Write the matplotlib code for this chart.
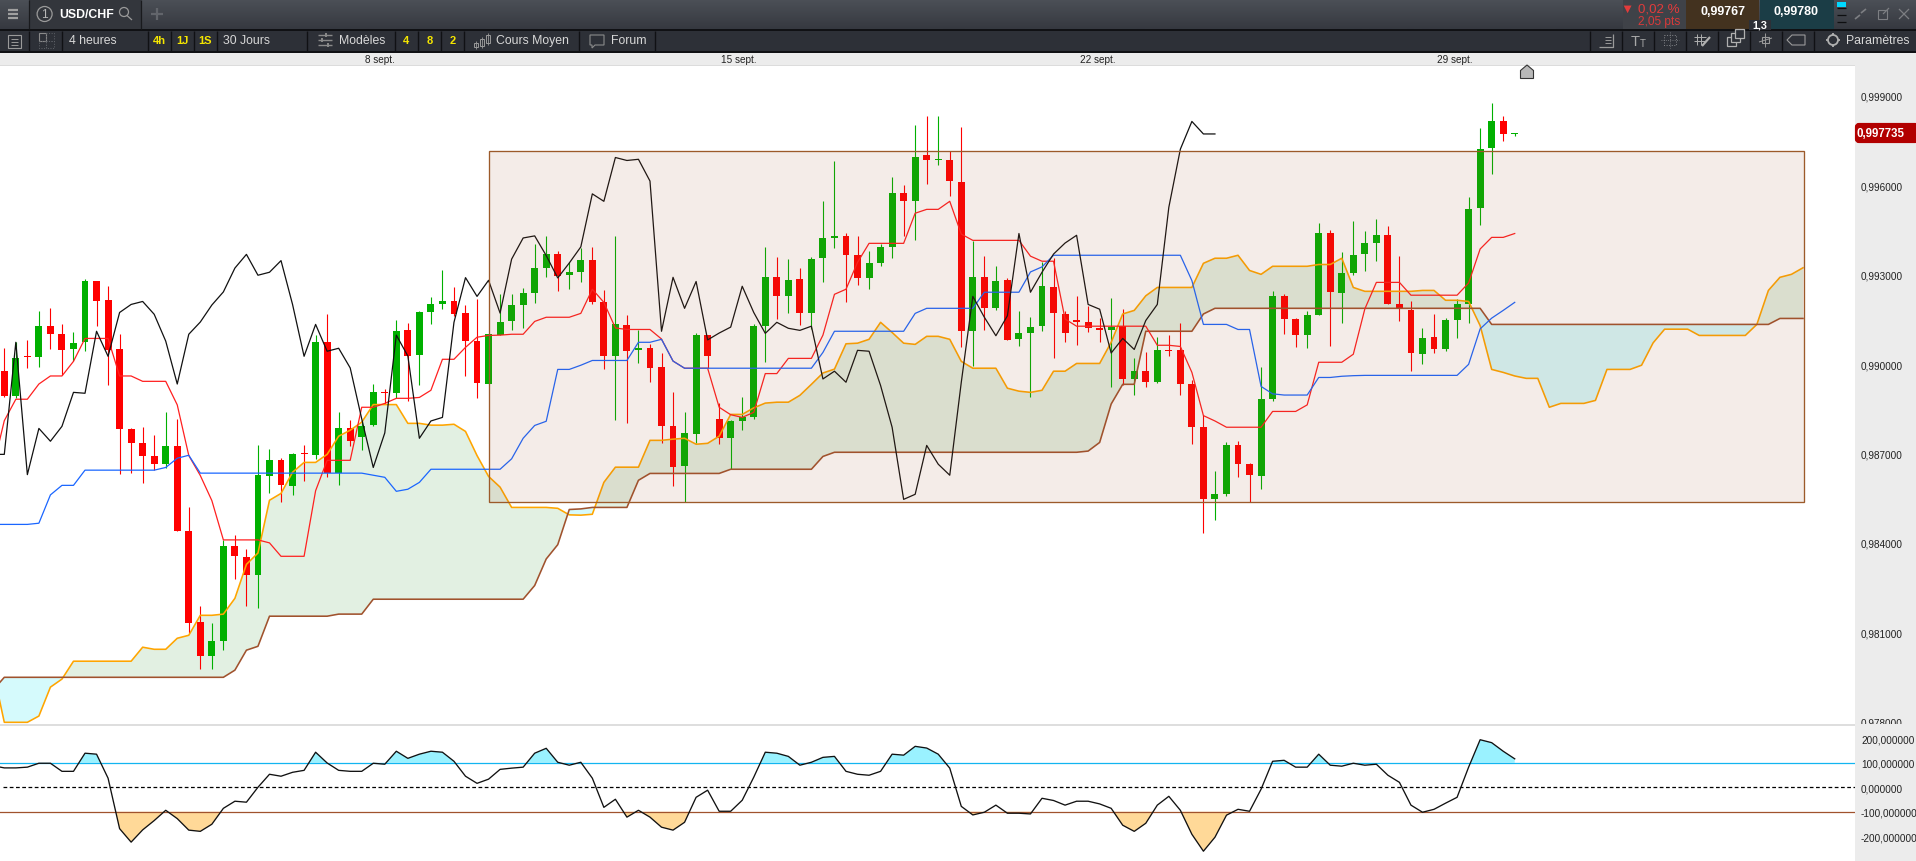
import numpy as np
import matplotlib
matplotlib.use("Agg")
import matplotlib.pyplot as plt
from matplotlib.patches import Rectangle, Circle, Polygon, FancyBboxPatch

plt.rcParams["font.family"] = ["Liberation Sans", "DejaVu Sans"]

# all prices are in 1e-5 units, USD/CHF 4 hour bars
open_pts = [
    98977, 98893, 99027, 99024, 99128, 99101, 99051, 99074, 99279, 99215,
    99051, 98782, 98735, 98692, 98665, 98725, 98440, 98135, 98021, 98071,
    98390, 98353, 98293, 98625, 98678, 98591, 98702, 98695, 99074, 98635,
    98786, 98755, 98796, 98906, 98903, 99114, 99030, 99175, 99201, 99212,
    99171, 99077, 98933, 99097, 99144, 99198, 99238, 99322, 99369, 99299,
    99309, 99349, 99208, 99027, 99131, 99047, 99054, 98990, 98792, 98658,
    98765, 99097, 98816, 98752, 98809, 98822, 99128, 99292, 99228, 99285,
    99171, 99356, 99423, 99430, 99366, 99289, 99339, 99393, 99574, 99547,
    99701, 99684, 99684, 99611, 99111, 99292, 99188, 99282, 99084, 99104,
    99128, 99258, 99168, 99148, 99141, 99121, 99114, 99128, 98950, 98977,
    98940, 99047, 99047, 98933, 98789, 98547, 98564, 98729, 98665, 98625,
    98883, 99228, 99151, 99097, 99165, 99440, 99238, 99305, 99369, 99406,
    99433, 99201, 99181, 99034, 99091, 99050, 99148, 99201, 99523, 99725, 99815, 99772,
]
close_pts = [
    98893, 99020, 99025, 99128, 99101, 99047, 99071, 99279, 99212, 99047,
    98782, 98735, 98692, 98665, 98725, 98440, 98132, 98021, 98071, 98390,
    98356, 98293, 98628, 98678, 98594, 98698, 98698, 99074, 98635, 98786,
    98742, 98792, 98906, 98903, 99111, 99027, 99175, 99201, 99212, 99168,
    99077, 98936, 99101, 99141, 99198, 99238, 99322, 99369, 99295, 99309,
    99349, 99208, 99027, 99134, 99044, 99054, 98987, 98792, 98655, 98769,
    99097, 99027, 98752, 98809, 98822, 99128, 99292, 99228, 99282, 99171,
    99352, 99423, 99430, 99366, 99289, 99339, 99393, 99574, 99547, 99694,
    99684, 99688, 99614, 99111, 99292, 99188, 99279, 99081, 99104, 99124,
    99262, 99171, 99104, 99141, 99121, 99114, 99124, 98950, 98977, 98940,
    99047, 99044, 98933, 98789, 98547, 98564, 98729, 98665, 98628, 98883,
    99228, 99151, 99097, 99165, 99440, 99242, 99305, 99366, 99406, 99433,
    99201, 99185, 99037, 99087, 99050, 99148, 99201, 99520, 99721, 99815, 99772, 99775,
]
high_pts = [
    99054, 99073, 99081, 99178, 99188, 99134, 99108, 99285, 99279, 99262,
    99101, 98786, 98789, 98762, 98839, 98816, 98521, 98189, 98132, 98410,
    98427, 98380, 98729, 98715, 98685, 98702, 98729, 99097, 99168, 98839,
    98812, 98812, 98933, 98916, 99148, 99138, 99178, 99225, 99315, 99258,
    99198, 99218, 99101, 99235, 99235, 99255, 99403, 99430, 99379, 99342,
    99389, 99393, 99248, 99430, 99165, 99114, 99067, 99037, 98906, 98839,
    99104, 99097, 98869, 98812, 98890, 99134, 99393, 99359, 99352, 99322,
    99359, 99547, 99681, 99440, 99430, 99379, 99403, 99627, 99601, 99802,
    99832, 99832, 99715, 99795, 99413, 99362, 99329, 99289, 99178, 99158,
    99342, 99356, 99178, 99228, 99195, 99154, 99222, 99185, 99020, 99040,
    99091, 99097, 99138, 98947, 98829, 98641, 98739, 98742, 98668, 98990,
    99245, 99235, 99154, 99178, 99473, 99450, 99376, 99480, 99446, 99487,
    99463, 99362, 99211, 99121, 99168, 99154, 99218, 99560, 99792, 99876, 99832, 99775,
]
low_pts = [
    98890, 98886, 98987, 98990, 99051, 98963, 99010, 99044, 99128, 98930,
    98631, 98635, 98601, 98645, 98651, 98440, 98098, 97977, 97977, 98041,
    98279, 98189, 98182, 98568, 98537, 98561, 98608, 98682, 98621, 98594,
    98725, 98712, 98792, 98866, 98886, 98876, 98930, 99134, 99185, 99161,
    98960, 98886, 98933, 99097, 99114, 99121, 99205, 99292, 99245, 99252,
    99275, 99201, 98983, 98812, 98802, 99004, 98940, 98735, 98591, 98536,
    98735, 98987, 98732, 98648, 98779, 98816, 99007, 99151, 99171, 99131,
    99118, 99275, 99389, 99208, 99265, 99252, 99329, 99356, 99430, 99416,
    99604, 99668, 99564, 99057, 98993, 99114, 99181, 99081, 99061, 98890,
    99111, 99020, 99074, 99064, 99108, 99074, 98923, 98930, 98896, 98923,
    98936, 99027, 98896, 98732, 98433, 98477, 98557, 98621, 98536, 98581,
    98876, 99101, 99057, 99054, 99165, 99061, 99138, 99299, 99312, 99346,
    99201, 99144, 98977, 99000, 99037, 99044, 99087, 99138, 99466, 99637, 99748, 99765,
]

# ichimoku lines, first value of each sits one bar left of the chart edge
tenkan_pts = [
    98648, 98810, 98882, 98882, 98933, 98960, 98960, 99009, 99086, 99086, 99086,
    98960, 98960, 98942, 98942, 98942, 98863, 98693, 98626, 98542, 98410,
    98410, 98410, 98410, 98400, 98355, 98355, 98355, 98575, 98677, 98677,
    98677, 98855, 98855, 98868, 98885, 98885, 98888, 98912, 99016, 99016,
    99056, 99090, 99096, 99097, 99100, 99100, 99143, 99157, 99157, 99157,
    99170, 99251, 99207, 99121, 99116, 99116, 99116, 99084, 99010, 98986,
    98986, 98986, 98855, 98830, 98821, 98838, 98968, 98968, 99019, 99019,
    99019, 99097, 99234, 99251, 99341, 99405, 99405, 99405, 99405, 99506,
    99519, 99519, 99546, 99436, 99415, 99415, 99415, 99415, 99415, 99362,
    99345, 99345, 99151, 99127, 99127, 99127, 99127, 99127, 99127, 99127,
    99063, 99063, 99059, 98972, 98827, 98809, 98788, 98788, 98788, 98788,
    98841, 98841, 98841, 98863, 99006, 99006, 99006, 99033, 99185, 99274,
    99274, 99274, 99231, 99231, 99231, 99231, 99231, 99272, 99386, 99425, 99425, 99438,
]
kijun_pts = [
    98462, 98462, 98462, 98462, 98466, 98561, 98593, 98593, 98644, 98644, 98644,
    98644, 98644, 98644, 98644, 98653, 98684, 98694, 98634, 98634, 98634,
    98634, 98634, 98634, 98634, 98634, 98634, 98634, 98634, 98634, 98634,
    98634, 98634, 98627, 98620, 98573, 98580, 98603, 98647, 98647, 98647,
    98647, 98647, 98647, 98647, 98682, 98751, 98794, 98808, 98982, 98982,
    98996, 99012, 99012, 99012, 99012, 99073, 99073, 99083, 99010, 98986,
    98986, 98986, 98986, 98986, 98986, 98986, 98986, 98986, 98986, 98986,
    98986, 99039, 99110, 99110, 99110, 99110, 99110, 99110, 99110, 99170,
    99187, 99187, 99187, 99187, 99187, 99241, 99241, 99241, 99241, 99309,
    99326, 99365, 99365, 99365, 99365, 99365, 99365, 99365, 99365, 99365,
    99365, 99365, 99365, 99280, 99133, 99133, 99133, 99116, 99116, 98925,
    98900, 98896, 98896, 98896, 98955, 98955, 98959, 98961, 98962, 98962,
    98962, 98962, 98962, 98962, 98962, 98962, 98962, 98999, 99118, 99154, 99180, 99207,
]
chikou_pts = [
    98697, 98697, 99073, 98629, 98784, 98741, 98791, 98905, 98902, 99110, 99026,
    99173, 99200, 99210, 99167, 99077, 98933, 99100, 99141, 99198, 99242,
    99322, 99368, 99298, 99308, 99347, 99200, 99026, 99133, 99043, 99053,
    98987, 98816, 98653, 98769, 99097, 99027, 98751, 98809, 98821, 99140,
    99290, 99227, 99281, 99171, 99352, 99423, 99430, 99364, 99289, 99339,
    99393, 99571, 99546, 99693, 99683, 99687, 99614, 99110, 99291, 99187,
    99277, 99081, 99104, 99124, 99261, 99173, 99103, 99140, 99120, 99113,
    99127, 98950, 98976, 98939, 99046, 99043, 98928, 98788, 98546, 98563,
    98727, 98664, 98627, 98939, 99227, 99157, 99095, 99162, 99438, 99241,
    99308, 99369, 99406, 99432, 99200, 99184, 99037, 99086, 99049, 99146,
    99200, 99526, 99721, 99814, 99772, 99772,
]
senkou_a_pts = [
    97977, 97798, 97798, 97798, 97819, 97916, 97943, 98003, 98003, 98003, 98003,
    98003, 98003, 98050, 98043, 98043, 98080, 98090, 98157, 98157, 98161,
    98214, 98328, 98366, 98543, 98566, 98637, 98670, 98670, 98697, 98758,
    98778, 98805, 98864, 98864, 98864, 98801, 98801, 98795, 98795, 98798,
    98774, 98693, 98623, 98587, 98519, 98519, 98519, 98519, 98516, 98494,
    98493, 98496, 98603, 98654, 98654, 98654, 98744, 98744, 98748, 98751,
    98731, 98734, 98758, 98831, 98831, 98853, 98869, 98872, 98872, 98895,
    98932, 98970, 98983, 99068, 99070, 99083, 99140, 99106, 99070, 99066,
    99093, 99093, 99083, 99009, 98986, 98986, 98986, 98919, 98909, 98905,
    98912, 98976, 98976, 99002, 99002, 99002, 99073, 99168, 99180, 99229,
    99257, 99257, 99257, 99257, 99338, 99355, 99355, 99365, 99314, 99301,
    99328, 99328, 99328, 99328, 99334, 99334, 99355, 99257, 99244, 99244,
    99244, 99244, 99244, 99247, 99247, 99214, 99214, 99210, 99129, 98982,
    98972, 98960, 98952, 98952, 98855, 98868, 98868, 98868, 98878, 98982,
    98982, 98982, 98996, 99071, 99117, 99117, 99117, 99096, 99096, 99096,
    99096, 99096, 99133, 99247, 99291, 99301, 99323,
]
senkou_b_pts = [
    97905, 97949, 97949, 97949, 97949, 97949, 97949, 97949, 97949, 97949, 97949,
    97949, 97949, 97949, 97949, 97949, 97949, 97949, 97949, 97949, 97949,
    97973, 98040, 98053, 98154, 98154, 98154, 98154, 98154, 98154, 98161,
    98161, 98161, 98211, 98211, 98211, 98211, 98211, 98211, 98211, 98211,
    98211, 98211, 98211, 98211, 98211, 98211, 98257, 98346, 98394, 98512,
    98514, 98519, 98519, 98519, 98519, 98610, 98633, 98633, 98633, 98633,
    98633, 98633, 98633, 98647, 98647, 98647, 98647, 98647, 98647, 98647,
    98647, 98690, 98704, 98704, 98704, 98704, 98704, 98704, 98704, 98704,
    98704, 98704, 98704, 98704, 98704, 98704, 98704, 98704, 98704, 98704,
    98704, 98704, 98704, 98704, 98708, 98737, 98866, 98932, 98932, 99110,
    99110, 99110, 99110, 99110, 99168, 99187, 99187, 99187, 99187, 99187,
    99187, 99187, 99187, 99187, 99187, 99187, 99187, 99187, 99187, 99187,
    99187, 99187, 99187, 99187, 99187, 99187, 99187, 99187, 99187, 99133,
    99133, 99133, 99133, 99133, 99133, 99133, 99133, 99133, 99133, 99133,
    99133, 99133, 99133, 99133, 99133, 99133, 99133, 99133, 99133, 99133,
    99133, 99133, 99133, 99133, 99153, 99153, 99153,
]

# commodity channel index, same offset of one bar
cci_values = [
    88, 79, 79, 82, 98, 98, 65, 65, 139, 135, 37,
    -169, -224, -174, -136, -94, -128, -175, -180, -151, -86,
    -57, -61, 0, 53, 45, 61, 69, 143, 99, 69,
    65, 65, 98, 94, 147, 118, 135, 147, 143, 106,
    45, 16, 33, 73, 78, 82, 139, 159, 102, 90,
    102, 37, -82, -49, -122, -94, -122, -163, -175, -143,
    -41, -12, -98, -98, -53, 41, 143, 139, 126, 90,
    102, 122, 126, 65, 53, 49, 65, 135, 131, 167,
    160, 135, 78, -78, -113, -102, -73, -106, -106, -109,
    -45, -54, -73, -57, -57, -68, -86, -155, -180, -147,
    -73, -37, -94, -192, -261, -204, -114, -90, -98, -8,
    106, 110, 82, 82, 135, 90, 86, 98, 90, 94,
    49, 20, -73, -102, -90, -65, -41, 82, 194, 182, 147, 116,
]

price_ticks = [0.978, 0.981, 0.984, 0.987, 0.990, 0.993, 0.996, 0.999]
cci_ticks = [-200, -100, 0, 100, 200]
date_bars = [32.6, 63.7, 94.8, 125.8]
date_labels = ["8 sept.", "15 sept.", "22 sept.", "29 sept."]
box_bars = (42.0, 156.05)
box_prices = (98536, 99716)
last_price = 0.997735

W, H = 1916, 862
BAR_PX = 11.53
BAR0_PX = 4.3
PLOT_RIGHT = 1855
STRIP = "#ececec"


def ax_rect(x0, y0, x1, y1):
    return [x0 / W, 1 - y1 / H, (x1 - x0) / W, (y1 - y0) / H]


def comma(value, decimals=6):
    return f"{value:.{decimals}f}".replace(".", ",")


def rect(ax, x, y, w, h, color):
    ax.add_patch(Rectangle((x, y), w, h, fc=color, ec="none", lw=0))


def seg(ax, xs, ys, color="#a8a8a8", lw=0.9, **kw):
    ax.plot(xs, ys, color=color, lw=lw, solid_capstyle="butt", **kw)


def txt(ax, x, y, s, color="#d8d8d8", size=8.8, weight="normal", ha="left"):
    ax.text(x, y, s, color=color, fontsize=size, fontweight=weight, ha=ha, va="center")


fig = plt.figure(figsize=(W / 100, H / 100), dpi=100, facecolor="white")

# toolbar chrome behind the charts, drawn in pixel space
ui = fig.add_axes([0, 0, 1, 1], zorder=0)
grad = np.linspace(0, 1, 30).reshape(-1, 1)
ui.imshow(grad, extent=(0, W, 30, 0), cmap=matplotlib.colors.LinearSegmentedColormap.from_list("bar", ["#4c5057", "#363940"]), aspect="auto")
rect(ui, 0, 0, W, 1, "#6f7175")
rect(ui, 29, 1, 112, 29, "#33363c")
rect(ui, 0, 30, W, 2, "#101114")
rect(ui, 0, 32, W, 20, "#2d3037")
rect(ui, 0, 52, W, 2, "#101114")
rect(ui, 0, 54, W, 12, STRIP)
rect(ui, 0, 66, W, 1.5, "#dcdcdc")
rect(ui, PLOT_RIGHT, 54, W - PLOT_RIGHT, H - 54, STRIP)
for x in [29, 141]:
    seg(ui, [x, x], [1, 30], "#191a1d")
for x in [29.5, 62.5, 148, 171, 194, 217, 307, 395, 418, 441, 464, 579, 655,
          1590, 1622, 1654, 1686, 1718, 1750, 1782, 1814]:
    seg(ui, [x, x], [32, 52], "#101114", lw=1.0)

# left tab
for y in [11, 15, 19]:
    seg(ui, [8, 18], [y, y], "#a0a0a0", lw=1.6)
ui.add_patch(Circle((44.6, 15), 7.5, fill=False, ec="#9a9a9a", lw=0.9))
txt(ui, 44.6, 15, "1", "#b8b8b8", 8.6, ha="center")
txt(ui, 59, 15, "USD/CHF", "#ffffff", 8.8, "bold")
ui.add_patch(Circle((124, 13), 4.5, fill=False, ec="#9a9a9a", lw=0.9))
seg(ui, [127, 132], [16.5, 21], "#9a9a9a")
seg(ui, [151, 163], [15, 15], "#62656b", lw=1.6)
seg(ui, [157, 157], [9, 21], "#62656b", lw=1.6)

# second row, left
ui.add_patch(Rectangle((8, 36), 13, 13, fill=False, ec="#9a9a9a", lw=0.8))
for y in [39.5, 42.5, 45.5]:
    seg(ui, [11, 18], [y, y], "#9a9a9a", lw=0.7)
ui.add_patch(Rectangle((39, 34), 7.5, 7.5, fill=False, ec="#8a8a8a", lw=0.8))
ui.add_patch(Rectangle((46.5, 34), 7.5, 7.5, fill=False, ec="#5f6268", lw=0.7, ls=":"))
ui.add_patch(Rectangle((39, 41.5), 7.5, 7.5, fill=False, ec="#5f6268", lw=0.7, ls=":"))
ui.add_patch(Rectangle((46.5, 41.5), 7.5, 7.5, fill=False, ec="#5f6268", lw=0.7, ls=":"))
txt(ui, 69, 41, "4 heures")
for x, s in [(159.5, "4h"), (182.5, "1J"), (205.5, "1S"), (406.5, "4"), (429.5, "8"), (452.5, "2")]:
    txt(ui, x, 41.5, s, "#f5e600", 8.0, "bold", "center")
txt(ui, 223, 41, "30 Jours")
for y, x0, x1 in [(36, 318, 332), (41, 318, 332), (46, 318, 332)]:
    seg(ui, [x0, x1], [y, y], "#8a8a8a", lw=1.0)
for y, x in [(36, 326), (41, 322), (46, 328)]:
    seg(ui, [x, x], [y - 2, y + 2], "#8a8a8a", lw=1.4)
txt(ui, 339, 41, "Modèles")
txt(ui, 496, 41, "Cours Moyen")
for x, y0, y1 in [(476, 44, 48), (482, 40, 47), (488, 36, 44)]:
    ui.add_patch(Rectangle((x - 2, y0), 4, y1 - y0, fill=False, ec="#9a9a9a", lw=0.7))
    seg(ui, [x, x], [y0 - 2, y1 + 2], "#9a9a9a", lw=0.6)
ui.add_patch(Polygon([(590, 36), (604, 36), (604, 46), (595, 46), (592, 49), (592, 46), (590, 46)],
                     closed=True, fill=False, ec="#8a8a8a", lw=0.8))
txt(ui, 611, 41, "Forum")

# top right quotes
rect(ui, 1623, 1, 63, 29, "#3f4248")
rect(ui, 1686, 1, 73, 29, "#43321f")
rect(ui, 1760, 1, 74, 29, "#1b3d46")
txt(ui, 1680, 9, "▼ 0,02 %", "#e23b3b", 9.6, ha="right")
txt(ui, 1680, 22, "2,05 pts", "#d93a3a", 8.6, ha="right")
txt(ui, 1723, 12, "0,99767", "#ffffff", 9.0, "bold", "center")
txt(ui, 1796, 12, "0,99780", "#ffffff", 9.0, "bold", "center")
rect(ui, 1837, 3, 9, 5, "#00d8ff")
for y in [9, 16, 23]:
    seg(ui, [1837, 1846], [y, y], "#0e0f11", lw=0.9)
seg(ui, [1855, 1860], [20, 16], "#7d7f83", lw=1.2)
seg(ui, [1861, 1866], [14, 10], "#7d7f83", lw=1.2)
ui.add_patch(Rectangle((1878, 11), 9, 9, fill=False, ec="#7d7f83", lw=0.8))
seg(ui, [1883, 1889], [15, 9], "#7d7f83", lw=0.9)
seg(ui, [1899, 1909], [10, 20], "#7d7f83", lw=0.9)
seg(ui, [1899, 1909], [20, 10], "#7d7f83", lw=0.9)

# second row, right
seg(ui, [1599, 1613, 1613], [48, 48, 35], "#9a9a9a")
for y in [38, 41, 44]:
    seg(ui, [1605, 1611], [y, y], "#9a9a9a", lw=0.7)
txt(ui, 1631, 42, "T", "#a8a8a8", 10.5)
txt(ui, 1640, 44, "T", "#a8a8a8", 7)
ui.add_patch(Rectangle((1664, 36), 12, 10, fill=False, ec="#85878b", lw=0.7, ls=":"))
seg(ui, [1670, 1670], [33, 49], "#85878b", lw=0.6, ls=":")
seg(ui, [1661, 1679], [41, 41], "#85878b", lw=0.6, ls=":")
for off in [0, 4]:
    seg(ui, [1697 + off, 1697 + off], [35, 46], "#b0b0b0", lw=0.7)
    seg(ui, [1694, 1706], [38 + off, 38 + off], "#b0b0b0", lw=0.7)
seg(ui, [1702, 1710], [47, 38], "#b0b0b0", lw=1.6)
for off in [0, 4, 8]:
    ui.add_patch(Rectangle((1727 + off, 38 - off), 9, 9, fc="#2d3037", ec="#b0b0b0", lw=0.9))
ui.add_patch(Rectangle((1762, 38), 7, 6, fill=False, ec="#9a9a9a", lw=0.8))
seg(ui, [1765.5, 1765.5], [34, 48], "#9a9a9a", lw=0.7)
seg(ui, [1759, 1772], [43, 39], "#9a9a9a", lw=0.7)
ui.add_patch(Polygon([(1805, 36), (1792, 36), (1787, 41), (1792, 46), (1805, 46)], closed=True,
                     fill=False, ec="#9a9a9a", lw=0.8))
ui.add_patch(Circle((1833, 41), 5, fill=False, ec="#b0b0b0", lw=1.3))
for dx, dy in [(0, -6.5), (0, 6.5), (-6.5, 0), (6.5, 0)]:
    seg(ui, [1833 + dx * 0.8, 1833 + dx * 1.1], [41 + dy * 0.8, 41 + dy * 1.1], "#b0b0b0", lw=1.3)
txt(ui, 1846, 41, "Paramètres")
ui.set_xlim(0, W)
ui.set_ylim(H, 0)
ui.axis("off")

# main price panel
y_low, y_high = 0.97794, 1.00000
x_left = -BAR0_PX / BAR_PX
x_right = (PLOT_RIGHT - BAR0_PX) / BAR_PX
ax = fig.add_axes(ax_rect(0, 67, PLOT_RIGHT, 724.5), zorder=1)
ax.set_facecolor("white")

opens = np.array(open_pts) / 1e5
closes = np.array(close_pts) / 1e5
highs = np.array(high_pts) / 1e5
lows = np.array(low_pts) / 1e5
bars = np.arange(len(opens))

span_a = np.array(senkou_a_pts) / 1e5
span_b = np.array(senkou_b_pts) / 1e5
span_x = np.arange(len(span_a)) - 1
ax.fill_between(span_x, span_a, span_b, where=span_a >= span_b, interpolate=True,
                color="#e2f0e2", lw=0, zorder=1)
ax.fill_between(span_x, span_a, span_b, where=span_a <= span_b, interpolate=True,
                color="#d5fafc", lw=0, zorder=1)

up = closes >= opens
colors = np.where(up, "#00b000", "#ff0000")
ax.vlines(bars, lows, highs, colors=colors, lw=0.8, zorder=2)
ax.bar(bars, np.maximum(np.abs(closes - opens), 0.00003), bottom=np.minimum(opens, closes),
       width=0.6, color=colors, lw=0, zorder=2)

ax.plot(span_x, span_a, color="#ffa500", lw=1.15, zorder=3)
ax.plot(span_x, span_b, color="#a0522d", lw=1.15, zorder=3)
ax.plot(np.arange(len(tenkan_pts)) - 1, np.array(tenkan_pts) / 1e5, color="#ff2020", lw=0.9, zorder=3)
ax.plot(np.arange(len(kijun_pts)) - 1, np.array(kijun_pts) / 1e5, color="#1a66ff", lw=0.9, zorder=3)
ax.plot(np.arange(len(chikou_pts)) - 1, np.array(chikou_pts) / 1e5, color="#111111", lw=0.9, zorder=3)

# price range box, translucent over everything it crosses
box_w = box_bars[1] - box_bars[0]
box_h = (box_prices[1] - box_prices[0]) / 1e5
ax.add_patch(Rectangle((box_bars[0], box_prices[0] / 1e5), box_w, box_h,
                       fc=(0.63, 0.32, 0.18, 0.11), ec="#9c5a2a", lw=0.95, zorder=4))

ax.set_xlim(x_left, x_right)
ax.set_ylim(y_low, y_high)
ax.yaxis.tick_right()
ax.set_yticks(price_ticks)
ax.set_yticklabels([comma(v) for v in price_ticks])
ax.xaxis.tick_top()
ax.set_xticks(date_bars)
ax.set_xticklabels(date_labels)
ax.tick_params(axis="y", length=0, pad=4.3, labelsize=7.2, labelcolor="#222222")
ax.tick_params(axis="x", length=0, pad=1.5, labelsize=7.2, labelcolor="#222222")
for spine in ax.spines.values():
    spine.set_visible(False)

# CCI panel
sub = fig.add_axes(ax_rect(0, 727, PLOT_RIGHT, H), zorder=1)
sub.set_facecolor("white")
cci = np.array(cci_values, dtype=float)
cci_x = np.arange(len(cci)) - 1
sub.fill_between(cci_x, 100, cci, where=cci >= 100, interpolate=True, color="#9af2ff", lw=0, zorder=1)
sub.fill_between(cci_x, -100, cci, where=cci <= -100, interpolate=True, color="#ffd998", lw=0, zorder=1)
sub.axhline(100, color="#12b5f0", lw=0.9, zorder=2)
sub.axhline(-100, color="#a0522d", lw=0.9, zorder=2)
sub.plot([1 / BAR_PX * 3 + x_left, x_right], [0, 0], color="black", lw=0.9, ls=(0, (3, 2)), zorder=2)
sub.plot(cci_x, cci, color="#111111", lw=0.95, zorder=3)
sub.set_xlim(x_left, x_right)
sub.set_ylim(-301, 250)
sub.set_xticks([])
sub.yaxis.tick_right()
sub.set_yticks(cci_ticks)
sub.set_yticklabels([comma(v) for v in cci_ticks])
sub.tick_params(axis="y", length=0, pad=4.3, labelsize=7.2, labelcolor="#222222")
for spine in sub.spines.values():
    spine.set_visible(False)

# things sitting on top of the charts
top = fig.add_axes([0, 0, 1, 1], zorder=5)
top.patch.set_alpha(0)
rect(top, 0, 724.5, W, 2.5, "#dedede")
rect(top, PLOT_RIGHT, 724.5, W - PLOT_RIGHT, 6, STRIP)
top.add_patch(FancyBboxPatch((1857, 126), 60, 16, boxstyle="round,pad=0,rounding_size=2",
                             fc="#b20000", ec="#b20000", lw=3))
txt(top, 1856.5, 134, comma(last_price), "#ffffff", 8.3, "bold")
top.add_patch(Polygon([(1520.5, 79.5), (1520.5, 71.5), (1527, 66), (1533.5, 71.5), (1533.5, 79.5)],
                      closed=True, fc="#b8b8b8", ec="#333333", lw=0.8))
rect(top, 1749, 21, 22, 10, "#2d3037")
txt(top, 1760, 26, "1,3", "#ffffff", 7.8, "bold", "center")
top.set_xlim(0, W)
top.set_ylim(H, 0)
top.axis("off")

fig.savefig("out.png", dpi=100, facecolor="white")
